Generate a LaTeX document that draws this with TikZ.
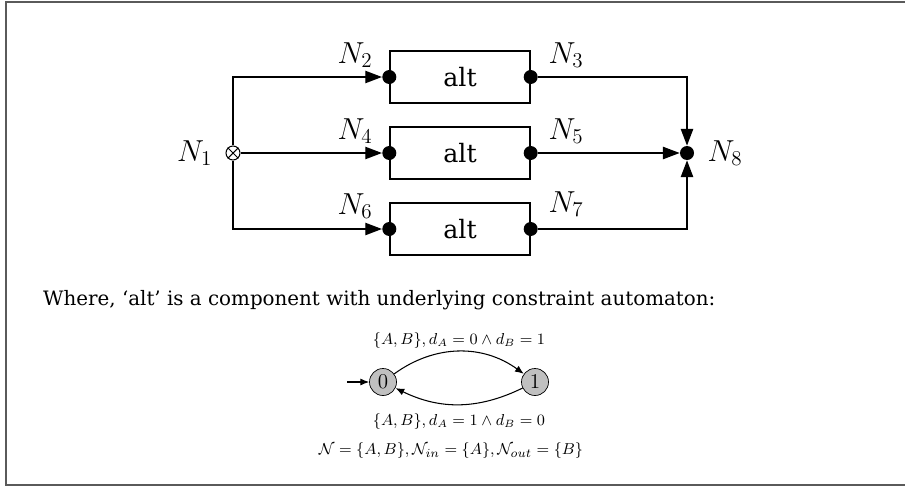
\documentclass[tikz,border=0pt]{standalone}
\usepackage[no-math]{fontspec}
\setmainfont{DejaVu Serif}
\usepackage{tikz}
\usetikzlibrary{arrows.meta, positioning}
\definecolor{stGray}{HTML}{C0C0C0}
\definecolor{frameGray}{HTML}{5A5A5A}

\begin{document}
\begin{tikzpicture}[x=0.02cm, y=-0.02cm,
      comp/.style={draw, line width=0.8pt, minimum width=2.8cm,
                   minimum height=1.04cm, font=\Large},
      port/.style={circle, fill, inner sep=0pt, minimum size=0.28cm},
      mixer/.style={circle, draw, line width=0.6pt, inner sep=0pt,
                    minimum size=0.28cm},
      flow/.style={-{Triangle[length=9.5pt, width=7pt]}, line width=0.8pt},
      lbl/.style={font=\LARGE},
      state/.style={circle, draw, fill=stGray, inner sep=0pt,
                    minimum size=0.54cm, font=\large},
      trans/.style={-{Latex[length=5pt, width=4pt]}, semithick},
      small/.style={font=\fontsize{9}{11}\selectfont}]
    \useasboundingbox (0,0) rectangle (905,487);
    \draw[frameGray, line width=0.9pt] (960,2) -- (6,2) -- (6,485) -- (960,485);
    % three alternators in parallel
    \node[comp] (c1) at (460,77) {alt};
    \node[comp] (c2) at (460,153) {alt};
    \node[comp] (c3) at (460,229) {alt};
    \node[port] (p2) at (c1.west) {};
    \node[port] (p3) at (c1.east) {};
    \node[port] (p4) at (c2.west) {};
    \node[port] (p5) at (c2.east) {};
    \node[port] (p6) at (c3.west) {};
    \node[port] (p7) at (c3.east) {};
    \node[mixer] (n1) at (233,153) {};
    \draw[line width=0.6pt] (n1.north west) -- (n1.south east)
                            (n1.north east) -- (n1.south west);
    \node[port] (n8) at (687,153) {};
    \node[lbl, left=4pt of n1] (l1) {$N_1$};
    \node[lbl, right=4pt of n8] (l8) {$N_8$};
    \node[lbl] (l2) at (355,55) {$N_2$};
    \node[lbl] (l3) at (566,55) {$N_3$};
    \node[lbl] (l4) at (355,131) {$N_4$};
    \node[lbl] (l5) at (566,131) {$N_5$};
    \node[lbl] (l6) at (355,206) {$N_6$};
    \node[lbl] (l7) at (566,204) {$N_7$};
    \draw[flow] (n1) |- (p2);
    \draw[flow] (n1) -- (p4);
    \draw[flow] (n1) |- (p6);
    \draw[flow] (p3) -| (n8);
    \draw[flow] (p5) -- (n8);
    \draw[flow] (p7) -| (n8);
    % the automaton of one alternator
    \node[anchor=base west, font=\fontsize{11.3}{13}\selectfont] (where)
      at (37,305.5)
      {Where, ‘alt’ is a component with underlying constraint automaton:};
    \node[state] (s0) at (383,382) {$0$};
    \node[state] (s1) at (535,382) {$1$};
    \coordinate (init) at (347,382);
    \draw[trans] (init) -- (s0);
    \draw[trans] (s0) to[bend left=36]
      node[above=-2pt, small] {$\{A,B\}, d_A = 0 \wedge d_B = 1$} (s1);
    \draw[trans] (s1) to[bend left=26]
      node[below=1.5pt, small] {$\{A,B\}, d_A = 1 \wedge d_B = 0$} (s0);
    \node[font=\fontsize{9.5}{11}\selectfont] (names) at (451,451)
      {$\mathcal{N} = \{A,B\}, \mathcal{N}_{in} = \{A\}, \mathcal{N}_{out} = \{B\}$};
  \end{tikzpicture}
\end{document}
